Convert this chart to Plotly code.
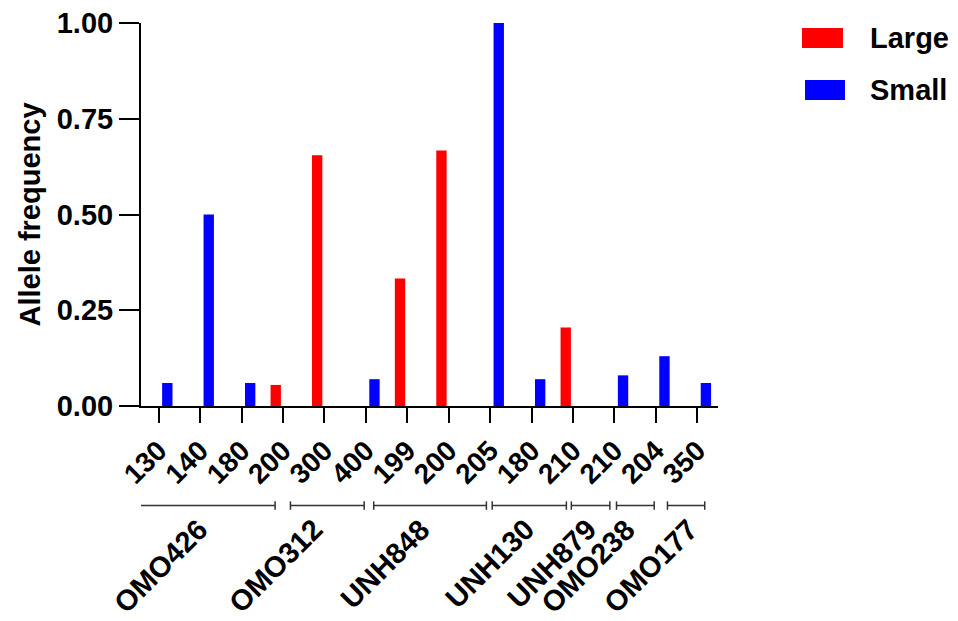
import plotly.graph_objects as go

# ---- data ----
allele_labels = ["130", "140", "180", "200", "300", "400", "199", "200", "205",
                 "180", "210", "210", "204", "350"]
large_values = [None, None, None, 0.055, 0.655, None, 0.333, 0.667, None,
                None, 0.205, None, None, None]
small_values = [0.06, 0.5, 0.06, None, None, 0.07, None, None, 1.0,
                0.07, None, 0.08, 0.13, 0.06]
group_names = ["OMO426", "OMO312", "UNH848", "UNH130", "UNH879", "OMO238", "OMO177"]
# bracket spans (in category-axis units) and label anchor x for each group
group_spans = [(-0.57, 2.81), (3.18, 4.96), (5.19, 7.91), (8.05, 9.84),
               (9.96, 10.89), (11.05, 11.96), (12.28, 13.18)]
group_label_x = [1.4, 4.17, 6.75, 9.27, 10.76, 11.72, 13.23]
series_names = ["Large", "Small"]
series_colors = ["#FF0000", "#0000FF"]
y_ticks = [0, 0.25, 0.5, 0.75, 1.0]

FONT = "Liberation Sans, Arial, sans-serif"
xpos = list(range(len(allele_labels)))

fig = go.Figure()
fig.add_trace(go.Bar(x=xpos, y=large_values, name=series_names[0],
                     marker=dict(color=series_colors[0], line=dict(width=0)),
                     width=0.25, offset=-0.30, showlegend=False))
fig.add_trace(go.Bar(x=xpos, y=small_values, name=series_names[1],
                     marker=dict(color=series_colors[1], line=dict(width=0)),
                     width=0.25, offset=0.083, showlegend=False))

shapes = []
annotations = []
by = -0.260
cap = 0.011
for (x0, x1), name, lx in zip(group_spans, group_names, group_label_x):
    shapes.append(dict(type="line", xref="x", yref="paper", x0=x0, x1=x1, y0=by, y1=by,
                       line=dict(color="#333333", width=1.5)))
    for xe in (x0, x1):
        shapes.append(dict(type="line", xref="x", yref="paper", x0=xe, x1=xe,
                           y0=by - cap, y1=by + cap, line=dict(color="#333333", width=1.5)))
    annotations.append(dict(text=name, xref="x", yref="paper", x=lx, y=-0.272,
                            xanchor="right", yanchor="top", textangle=-45, showarrow=False,
                            font=dict(family=FONT, size=29, color="black", weight="bold")))

# manual legend
leg_rects = [(1.1456, 1.2166, 0.935, 0.987), (1.1508, 1.2201, 0.799, 0.851)]
for (x0, x1, y0, y1), col, nm in zip(leg_rects, series_colors, series_names):
    shapes.append(dict(type="rect", xref="paper", yref="paper", x0=x0, x1=x1, y0=y0, y1=y1,
                       fillcolor=col, line=dict(width=0)))
    annotations.append(dict(text=nm, xref="paper", yref="paper", x=1.26, y=(y0 + y1) / 2,
                            xanchor="left", yanchor="middle", showarrow=False,
                            font=dict(family=FONT, size=29, color="black", weight="bold")))

# page body has an 8px default margin, so the figure is drawn 8px smaller and shifted
fig.update_layout(
    width=950, height=613,
    margin=dict(l=133, r=240, t=15, b=215),
    plot_bgcolor="white", paper_bgcolor="white",
    barmode="overlay",
    shapes=shapes, annotations=annotations,
    font=dict(family=FONT, color="black"),
)
fig.update_xaxes(range=[-0.427, 13.5], tickvals=xpos, ticktext=allele_labels,
                 tickangle=-45, showline=True, linewidth=2, linecolor="black",
                 ticks="outside", ticklen=15, tickwidth=2, tickcolor="black",
                 showgrid=False, zeroline=False, automargin=False,
                 ticklabeloverflow="allow",
                 tickfont=dict(family=FONT, size=28, color="black", weight="bold"))
fig.update_yaxes(range=[0, 1], tickvals=y_ticks, tickformat=".2f",
                 showline=True, linewidth=2, linecolor="black",
                 ticks="outside", ticklen=20, tickwidth=2, tickcolor="black",
                 showgrid=False, zeroline=False, automargin=False,
                 ticklabeloverflow="allow",
                 tickfont=dict(family=FONT, size=29, color="black", weight="bold"),
                 title=dict(text="Allele frequency", standoff=8,
                            font=dict(family=FONT, size=29, color="black", weight="bold")))

fig.write_html("out.html")
